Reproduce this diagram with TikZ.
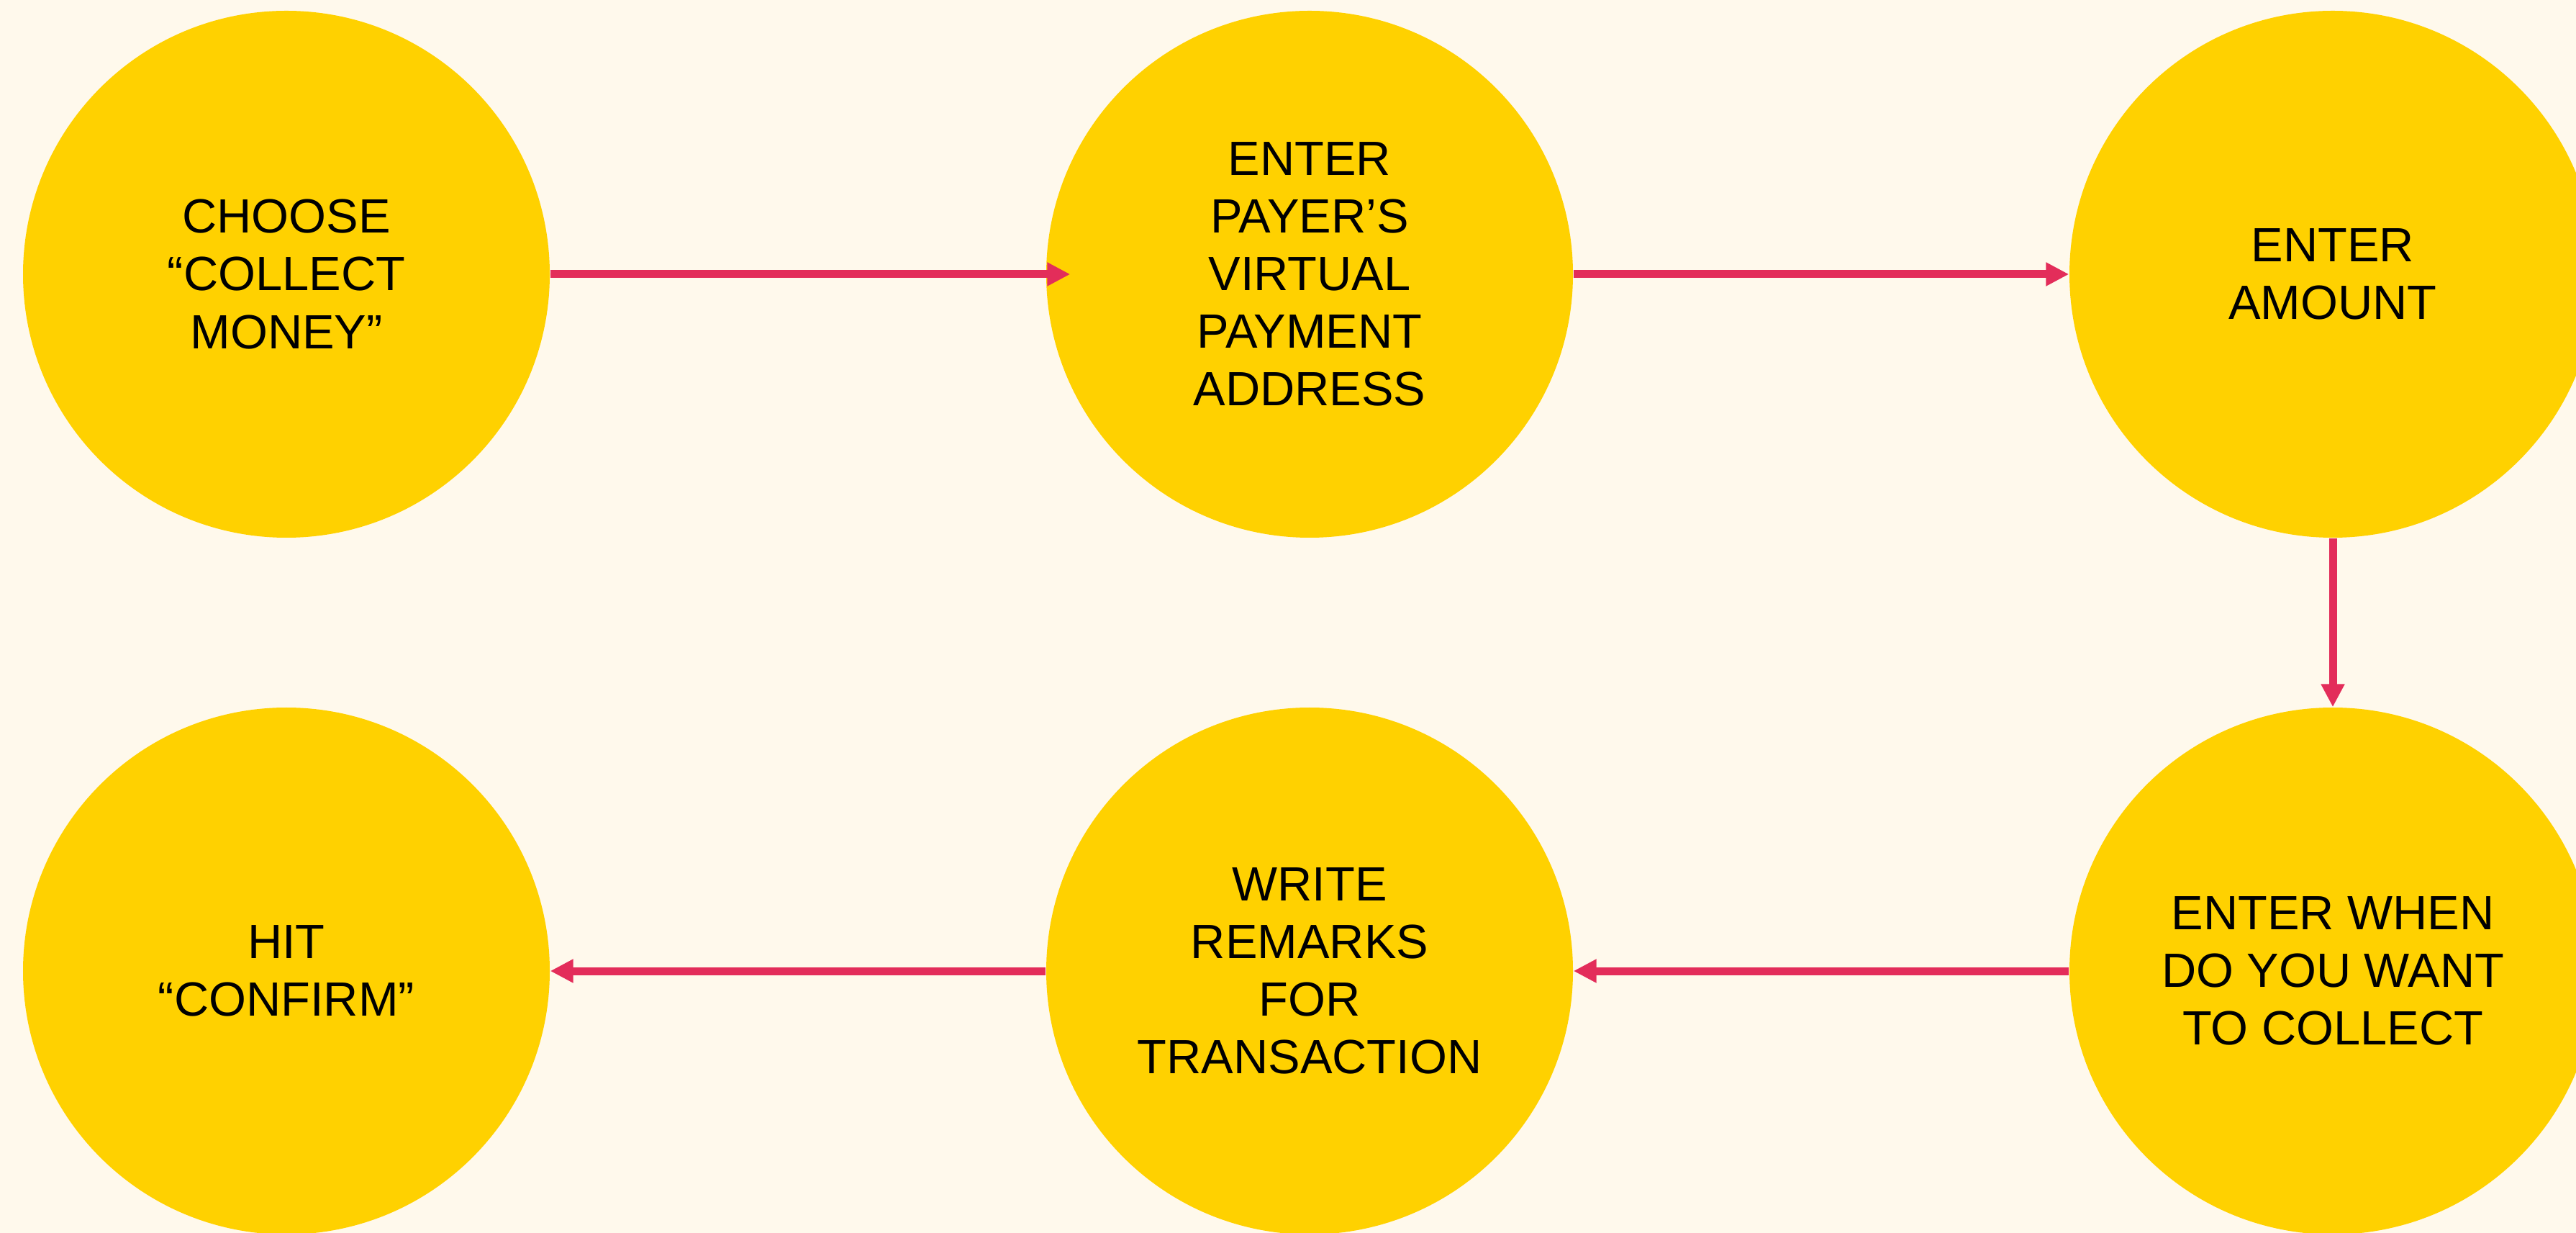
\documentclass[tikz,border=0pt]{standalone}
\usepackage{fontspec}
\setmainfont{Liberation Sans}
\usetikzlibrary{arrows.meta}
\definecolor{bgcream}{HTML}{FFF9EC}
\definecolor{stepyellow}{HTML}{FFD100}
\definecolor{flowred}{HTML}{E32D5A}
\tikzset{
  stepcircle/.style={circle, fill=stepyellow, draw=none, minimum size=7.32cm, inner sep=0pt,
    align=center, font=\fontsize{19.0}{22.8}\selectfont, text=black},
  flow/.style={draw=flowred, line width=0.11cm, -{Triangle[length=0.32cm,width=0.31cm]}}
}
\begin{document}
\begin{tikzpicture}
\fill[bgcream] (0,0) rectangle (35.80,-17.13);
\useasboundingbox (0,0) rectangle (35.80,-17.13);
\clip (0,0) rectangle (35.80,-17.13);
\node[stepcircle] (c1) at (3.98,-3.81) {CHOOSE\\“COLLECT\\MONEY”};
\node[stepcircle] (c2) at (18.20,-3.81) {ENTER\\PAYER’S\\VIRTUAL\\PAYMENT\\ADDRESS};
\node[stepcircle] (c3) at (32.42,-3.81) {ENTER\\AMOUNT};
\node[stepcircle] (c4) at (32.42,-13.49) {ENTER WHEN\\DO YOU WANT\\TO COLLECT};
\node[stepcircle] (c5) at (18.20,-13.49) {WRITE\\REMARKS\\FOR\\TRANSACTION};
\node[stepcircle] (c6) at (3.98,-13.49) {HIT\\“CONFIRM”};
\draw[flow, shorten >=-0.34cm] (c1.east) -- (c2.west);
\draw[flow] (c2.east) -- (c3.west);
\draw[flow] (c3.south) -- (c4.north);
\draw[flow] (c4.west) -- (c5.east);
\draw[flow] (c5.west) -- (c6.east);
\end{tikzpicture}
\end{document}
